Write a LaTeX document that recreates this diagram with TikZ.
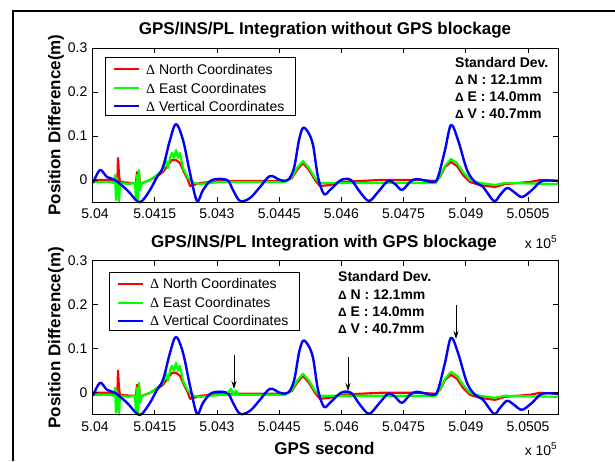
\documentclass[tikz,border=0pt]{standalone}
\usepackage{fontspec}
\setmainfont{Liberation Sans}
\newfontfamily\serifdelta{Liberation Serif}
\usetikzlibrary{arrows.meta,calc}
\definecolor{plred}{RGB}{255,0,0}
\definecolor{plgreen}{RGB}{0,255,0}
\definecolor{plblue}{RGB}{0,0,255}
\tikzset{
  axisbox/.style={draw=black, line width=0.9pt},
  tickmark/.style={draw=black, line width=0.8pt},
  ticklab/.style={font=\fontsize{14}{14}\selectfont, inner sep=0pt},
  titlelab/.style={font=\fontsize{17}{17}\selectfont\bfseries, inner sep=0pt},
  legendbox/.style={draw=black, line width=1pt, fill=white},
  legtext/.style={font=\fontsize{14}{14}\selectfont, anchor=west, inner sep=0pt},
  stattext/.style={font=\fontsize{14}{14}\selectfont\bfseries, anchor=west, inner sep=0pt},
  northline/.style={draw=plred, line width=2.2pt, line join=round},
  eastline/.style={draw=plgreen, line width=2.2pt, line join=round},
  vertline/.style={draw=plblue, line width=2.4pt, line join=round},
  blockarrow/.style={draw=black, line width=1pt, -{Stealth[length=8pt,width=5pt]}},
}
\newcommand\plotcurves{%
  \draw[northline] (93,180) -- (110,180) -- (116,182) -- (117,195) -- (118,158) -- (119,175) -- (120,182) -- (130,183) -- (136,183) -- (137,172) -- (138,190) -- (139,173) -- (140,184) -- (150,180) -- (157,176) -- (163,172) -- (168,165) -- (172,160) -- (176,160) -- (180,163) -- (184,172) -- (188,180) -- (190,186) -- (194,185) -- (200,183) -- (220,181) -- (260,181) -- (285,181) -- (292,178) -- (297,170) -- (303,163) -- (309,170) -- (315,180) -- (320,186) -- (330,185) -- (340,182) -- (380,180) -- (420,180) -- (436,181) -- (440,177) -- (445,167) -- (451,162) -- (457,166) -- (463,175) -- (470,182) -- (480,185) -- (495,187) -- (505,184) -- (530,182) -- (540,180) -- (558,181);
  \draw[eastline] (93,182) -- (110,182) -- (114,183) -- (115,175) -- (116,200) -- (117,178) -- (118,190) -- (119,202) -- (120,183) -- (128,184) -- (135,183) -- (136,200) -- (137,175) -- (138,202) -- (139,170) -- (140,190) -- (142,183) -- (150,180) -- (157,175) -- (163,170) -- (166,160) -- (168,168) -- (170,158) -- (172,153) -- (174,158) -- (176,150) -- (178,158) -- (180,153) -- (183,168) -- (188,178) -- (194,183) -- (200,184) -- (220,182) -- (260,182) -- (285,182) -- (292,177) -- (297,168) -- (303,161) -- (309,168) -- (315,178) -- (320,183) -- (330,183) -- (400,183) -- (436,183) -- (440,176) -- (445,166) -- (451,159) -- (457,163) -- (463,172) -- (470,180) -- (480,183) -- (495,185) -- (505,183) -- (558,184);
  \draw[vertline] plot[smooth, tension=0.55] coordinates {(93,183) (100,170) (107,177) (115,180) (127,190) (137,201) (142,201) (150,190) (157,177) (163,167) (170,140) (176,124) (183,140) (190,173) (197,201) (203,190) (212,180) (227,180) (233,190) (240,201) (250,198) (260,187) (270,176) (280,180) (288,180) (294,168) (299,140) (303,128) (308,132) (313,145) (318,177) (324,194) (330,190) (341,180) (351,180) (360,192) (369,201) (378,192) (388,181) (395,184) (402,190) (410,182) (417,179) (433,182) (438,177) (445,150) (451,125) (458,140) (467,170) (475,182) (483,187) (494,201) (500,195) (507,188) (514,192) (522,197) (532,190) (542,181) (558,181)};
}
\newcommand\plotframe[1]{%
  \draw[axisbox] (92.5,48) rectangle (558,202);
  \foreach \tx in {92.6,154.8,217,279.2,341.4,403.6,465.8,528} {
    \draw[tickmark] (\tx,202) -- (\tx,197);
    \draw[tickmark] (\tx,48) -- (\tx,53);
  }
  \foreach \ty in {48,92,136,180} {
    \draw[tickmark] (92.5,\ty) -- (97.5,\ty);
    \draw[tickmark] (558,\ty) -- (553,\ty);
  }
  \node[ticklab, anchor=east] (l03) at (87.5,48) {0.3};
  \node[ticklab, anchor=east] (l02) at (87.5,92) {0.2};
  \node[ticklab, anchor=east] (l01) at (87.5,136) {0.1};
  \node[ticklab, anchor=east] (l00) at (87.5,180) {0};
  \node[ticklab] (x1) at (95,214) {5.04};
  \node[ticklab] (x2) at (154.8,214) {5.0415};
  \node[ticklab] (x3) at (217,214) {5.043};
  \node[ticklab] (x4) at (279.2,214) {5.0445};
  \node[ticklab] (x5) at (341.4,214) {5.046};
  \node[ticklab] (x6) at (403.6,214) {5.0475};
  \node[ticklab] (x7) at (465.8,214) {5.049};
  \node[ticklab] (x8) at (528,214) {5.0505};
  \node[ticklab, anchor=east] (xexp) at (557,#1) {x 10\raisebox{6pt}{\fontsize{10}{10}\selectfont 5}};
  \node[titlelab, rotate=90] (ylab) at (56,125) {Position Difference(m)};
}
\newcommand\legendentries[2]{%
  \node[legendbox, minimum width=190pt, minimum height=58pt, anchor=north west, inner sep=0pt] (leg) at (#1,#2) {};
  \draw[northline] ($(leg.north west)+(9,12)$) -- +(25,0);
  \draw[eastline] ($(leg.north west)+(9,31)$) -- +(25,0);
  \draw[vertline] ($(leg.north west)+(9,49)$) -- +(25,0);
  \node[legtext] (ln) at ($(leg.north west)+(41,12)$) {{\serifdelta Δ} North Coordinates};
  \node[legtext] (le) at ($(leg.north west)+(41,31)$) {{\serifdelta Δ} East Coordinates};
  \node[legtext] (lv) at ($(leg.north west)+(41,49)$) {{\serifdelta Δ} Vertical Coordinates};
}
\newcommand\statentries[2]{%
  \node[stattext] (sd) at (#1,#2) {Standard Dev.};
  \node[stattext] (sn) at (#1,#2+18) {{\fontsize{12}{12}\selectfont Δ} N : 12.1mm};
  \node[stattext] (se) at (#1,#2+35) {{\fontsize{12}{12}\selectfont Δ} E : 14.0mm};
  \node[stattext] (sv) at (#1,#2+52) {{\fontsize{12}{12}\selectfont Δ} V : 40.7mm};
}
\begin{document}
\begin{tikzpicture}[x=1pt,y=-1pt]
\useasboundingbox (0,0) rectangle (615,461);
\fill[white] (0,0) rectangle (615,461);
\draw[line width=1.5pt] (13,461) -- (13,11) -- (615,11);
% top plot
\node[titlelab] (t1) at (325,30) {GPS/INS/PL Integration without GPS blockage};
\plotcurves
\plotframe{242}
\legendentries{105}{57}
\statentries{455}{62}
% bottom plot
\node[titlelab] (t2) at (324,243) {GPS/INS/PL Integration with GPS blockage};
\begin{scope}[yshift=-212.8pt]
\plotcurves
\draw[eastline] (228,180) -- (231,176) -- (233,181) -- (236,178) -- (238,181);
\plotframe{236}
\legendentries{109}{59}
\statentries{338}{64}
\end{scope}
\node[titlelab] (xl) at (324.5,448) {GPS second};
\coordinate (a1s) at (234,355); \coordinate (a1e) at (234,389);
\coordinate (a2s) at (348,357); \coordinate (a2e) at (348,391);
\coordinate (a3s) at (456,305); \coordinate (a3e) at (456,339);
\draw[blockarrow] (a1s) -- (a1e);
\draw[blockarrow] (a2s) -- (a2e);
\draw[blockarrow] (a3s) -- (a3e);
\end{tikzpicture}
\end{document}
